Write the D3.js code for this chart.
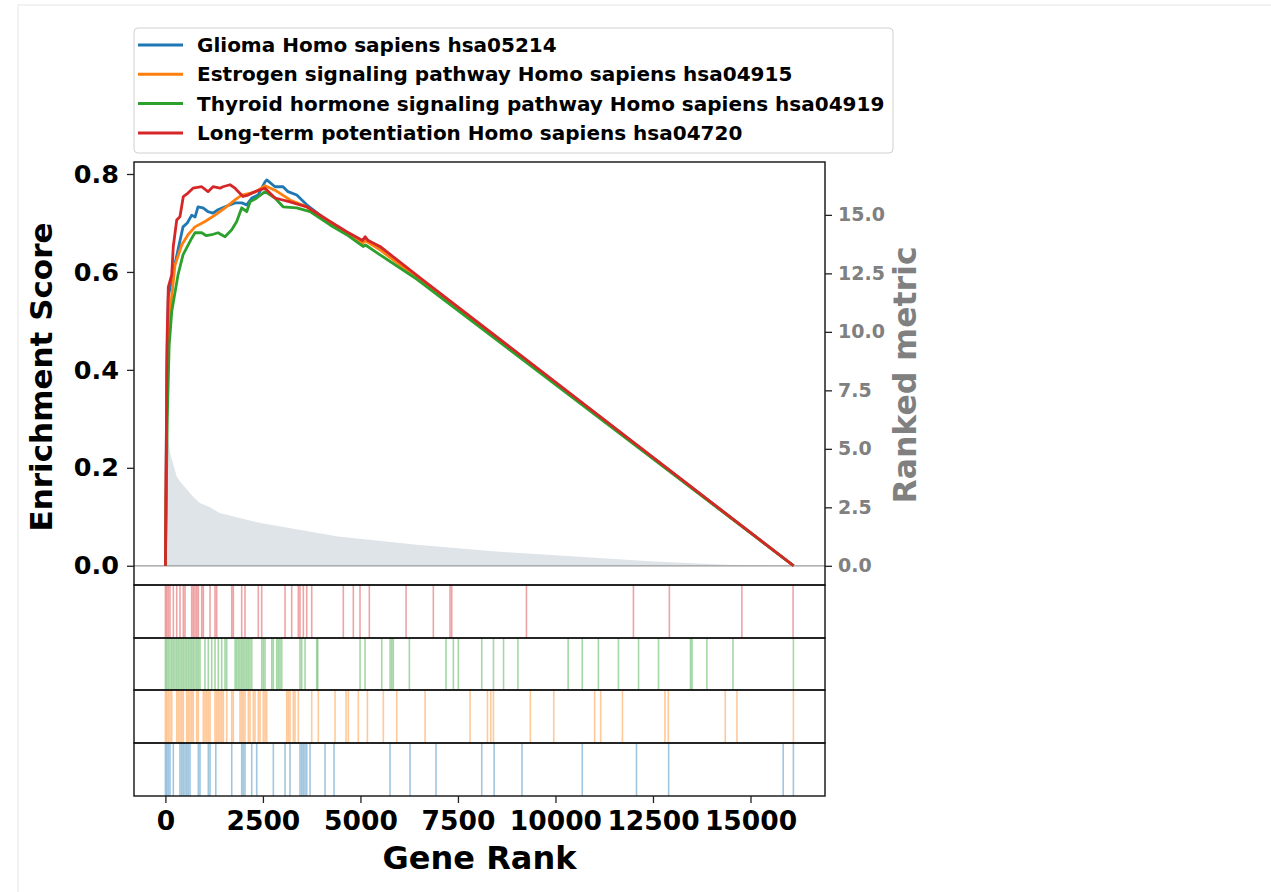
<!DOCTYPE html>
<html>
<head>
<meta charset="utf-8">
<script src="https://cdn.jsdelivr.net/npm/d3@7"></script>
<style>
  body { margin: 0; background: #fff; }
  svg { font-family: "DejaVu Sans", sans-serif; font-weight: bold; }
</style>
</head>
<body>
<svg id="chart" width="1271" height="892"></svg>
<script>
const nGenes = 16105;

const termNames = [
  'Glioma Homo sapiens hsa05214',
  'Estrogen signaling pathway Homo sapiens hsa04915',
  'Thyroid hormone signaling pathway Homo sapiens hsa04919',
  'Long-term potentiation Homo sapiens hsa04720'
];
const termColors = ['#1f77b4', '#ff7f0e', '#2ca02c', '#d62728'];

// running enrichment score, [rank, ES]
const esGlioma = [[0, 0], [38, 0.40], [74, 0.55], [200, 0.60], [323, 0.645], [451, 0.692], [560, 0.700], [675, 0.716],
  [760, 0.712], [835, 0.733], [964, 0.731], [1092, 0.723], [1220, 0.720], [1348, 0.727], [1528, 0.733], [1784, 0.741],
  [1957, 0.741], [2085, 0.737], [2213, 0.751], [2374, 0.757], [2554, 0.784], [2598, 0.788], [2810, 0.774], [3016, 0.774],
  [3144, 0.764], [3367, 0.757], [3623, 0.737], [4221, 0.700], [4649, 0.679], [5053, 0.662], [5120, 0.668], [5503, 0.649],
  [6529, 0.586], [16105, 0]];
const esEstrogen = [[0, 0], [38, 0.35], [96, 0.50], [246, 0.614], [418, 0.655], [579, 0.676], [759, 0.692], [1015, 0.703],
  [1271, 0.716], [1528, 0.731], [1784, 0.747], [1957, 0.757], [2297, 0.763], [2554, 0.776], [2810, 0.767], [3195, 0.747],
  [3623, 0.733], [4221, 0.698], [4649, 0.677], [5053, 0.658], [5120, 0.664], [5503, 0.645], [6529, 0.584], [16105, 0]];
const esThyroid = [[0, 0], [48, 0.30], [96, 0.45], [162, 0.519], [323, 0.594], [451, 0.635], [675, 0.669], [759, 0.680],
  [931, 0.680], [1050, 0.674], [1187, 0.676], [1348, 0.680], [1528, 0.672], [1700, 0.686], [1828, 0.703], [1957, 0.731],
  [2085, 0.723], [2170, 0.743], [2341, 0.751], [2554, 0.764], [2810, 0.751], [3016, 0.733], [3367, 0.731], [3708, 0.723],
  [4221, 0.696], [4649, 0.676], [5067, 0.652], [5130, 0.655], [5503, 0.635], [6450, 0.585], [16105, 0]];
const esLtp = [[0, 0], [40, 0.45], [74, 0.569], [162, 0.594], [202, 0.652], [290, 0.706], [374, 0.713], [459, 0.754],
  [579, 0.761], [707, 0.771], [931, 0.774], [1092, 0.764], [1220, 0.774], [1400, 0.771], [1476, 0.774], [1656, 0.778],
  [1784, 0.771], [1989, 0.754], [2118, 0.757], [2297, 0.764], [2554, 0.771], [2810, 0.751], [3195, 0.743], [3623, 0.733],
  [4221, 0.703], [4649, 0.682], [5053, 0.664], [5120, 0.672], [5198, 0.664], [5503, 0.652], [6529, 0.588], [16105, 0]];

// ranked metric, [rank, value]
const rankedMetric = [[0, 16.44], [5, 11], [12, 8], [20, 7], [33, 5.95], [118, 4.83], [290, 3.82], [374, 3.6], [708, 2.96],
  [882, 2.68], [1144, 2.5], [1387, 2.26], [2400, 1.84], [4426, 1.25], [6451, 0.90], [8477, 0.61], [10502, 0.40],
  [12528, 0.18], [14553, 0.04], [16105, 0]];

// gene set hit positions (ranks)
const hitsGlioma = [0, 33, 74, 118, 203, 374, 418, 459, 503, 546, 587, 631, 844, 887, 1100, 1144, 1292, 1700, 1956, 1997,
  2041, 2213, 2341, 2767, 3067, 3195, 3451, 3495, 3536, 3580, 3623, 3708, 4092, 4323, 5759, 6272, 6938, 8110, 8428,
  9141, 10687, 12077, 12902, 15838, 16100];
const hitsEstrogen = [0, 33, 74, 118, 162, 290, 331, 374, 418, 459, 546, 587, 631, 674, 715, 803, 844, 972, 1015, 1059,
  1100, 1144, 1272, 1315, 1356, 1400, 1444, 1485, 1572, 1700, 1741, 1913, 1956, 1997, 2041, 2126, 2169, 2254, 2297, 2382,
  2426, 2510, 2554, 2597, 3110, 3151, 3195, 3279, 3323, 3408, 3751, 3920, 4349, 4631, 4690, 4946, 5178, 5587, 5931,
  6657, 7810, 8256, 8343, 8410, 9356, 9956, 11005, 11159, 11717, 12807, 12894, 14353, 14653, 16100];
const hitsThyroid = [0, 33, 74, 118, 162, 203, 246, 290, 331, 374, 418, 459, 503, 546, 589, 631, 674, 715, 759, 803, 844,
  887, 1015, 1100, 1187, 1272, 1356, 1443, 1528, 1572, 1787, 1828, 1871, 1912, 1956, 1997, 2040, 2084, 2125, 2169, 2213,
  2469, 2510, 2554, 2726, 2767, 2854, 2895, 2938, 2982, 3451, 3495, 3580, 3879, 3905, 4990, 5118, 5546, 5759, 5802, 5843,
  6254, 7195, 7382, 7510, 8110, 8410, 8669, 9038, 10325, 10687, 11100, 11615, 12130, 12643, 13461, 13502, 13882, 14551,
  16100];
const hitsLtp = [0, 33, 74, 118, 203, 290, 374, 459, 503, 674, 715, 759, 803, 844, 931, 972, 1144, 1272, 1315, 1700,
  1741, 1956, 2040, 2382, 2469, 3067, 3238, 3408, 3451, 3536, 3623, 3751, 4561, 4818, 4989, 5228, 6170, 6869, 7297, 7341,
  9256, 11999, 12920, 14779, 16092];

const xTicks = [0, 2500, 5000, 7500, 10000, 12500, 15000];
const esTicks = [0, 0.2, 0.4, 0.6, 0.8];
const metricTicks = [0, 2.5, 5, 7.5, 10, 12.5, 15];

const esCurves = [esGlioma, esEstrogen, esThyroid, esLtp];
const hitSets = [hitsGlioma, hitsEstrogen, hitsThyroid, hitsLtp];

const svg = d3.select('#chart');
const plotLeft = 134, plotRight = 825, plotTop = 162, esBottom = 585;
const panelEdges = [585, 638, 690, 743, 796];

svg.append('rect')
  .attr('x', 18).attr('y', 5).attr('width', 1300).attr('height', 900)
  .style('fill', 'none').style('stroke', '#e6e6e6');

const x = d3.scaleLinear().domain([-0.05 * nGenes, 1.05 * nGenes]).range([plotLeft, plotRight]);
const yEs = d3.scaleLinear().domain([-0.0393, 0.8245]).range([esBottom, plotTop]);
const yMetric = d3.scaleLinear().domain([-0.82, 17.26]).range([esBottom, plotTop]);

// ranked metric fill
svg.append('path')
  .datum(rankedMetric)
  .attr('d', d3.area().x(d => x(d[0])).y0(yMetric(0)).y1(d => yMetric(d[1])))
  .style('fill', '#dfe4e9');

svg.append('line')
  .attr('x1', plotLeft).attr('x2', plotRight)
  .attr('y1', yMetric(0)).attr('y2', yMetric(0))
  .style('stroke', '#9a9a9a').style('stroke-width', 1.2);

svg.selectAll('path.es')
  .data(esCurves)
  .enter()
  .append('path')
  .classed('es', true)
  .attr('d', d3.line().x(d => x(d[0])).y(d => yEs(d[1])))
  .style('fill', 'none')
  .style('stroke', (d, i) => termColors[i])
  .style('stroke-width', 2.8)
  .style('stroke-linejoin', 'round');

// hit panels, red on top, blue at the bottom
hitSets.forEach((hits, i) => {
  const row = 3 - i;
  const y0 = panelEdges[row], y1 = panelEdges[row + 1];
  svg.append('g')
    .selectAll('line')
    .data(hits)
    .enter()
    .append('line')
    .attr('x1', d => x(d)).attr('x2', d => x(d))
    .attr('y1', y0).attr('y2', y1)
    .style('stroke', termColors[i])
    .style('stroke-width', 1.6)
    .style('stroke-opacity', 0.42);
});

// frames
svg.append('rect')
  .attr('x', plotLeft).attr('y', plotTop).attr('width', plotRight - plotLeft).attr('height', esBottom - plotTop)
  .style('fill', 'none').style('stroke', '#111').style('stroke-width', 1.4);
panelEdges.slice(0, 4).forEach((y0, i) => {
  svg.append('rect')
    .attr('x', plotLeft).attr('y', y0).attr('width', plotRight - plotLeft).attr('height', panelEdges[i + 1] - y0)
    .style('fill', 'none').style('stroke', '#111').style('stroke-width', 1.4);
});

// axes
const leftAxis = svg.append('g')
  .attr('transform', `translate(${plotLeft},0)`)
  .call(d3.axisLeft(yEs).tickValues(esTicks).tickFormat(d3.format('.1f')).tickSize(7).tickPadding(8));
leftAxis.selectAll('text').style('font-size', '25.5px').style('fill', '#000');

const rightAxis = svg.append('g')
  .attr('transform', `translate(${plotRight},0)`)
  .call(d3.axisRight(yMetric).tickValues(metricTicks).tickFormat(d3.format('.1f')).tickSize(7).tickPadding(6));
rightAxis.selectAll('text').style('font-size', '19px').style('fill', '#808080');

const bottomAxis = svg.append('g')
  .attr('transform', `translate(0,${panelEdges[4]})`)
  .call(d3.axisBottom(x).tickValues(xTicks).tickFormat(d3.format('d')).tickSize(7).tickPadding(8));
bottomAxis.selectAll('text').style('font-size', '26.5px').style('fill', '#000');

svg.selectAll('.domain').remove();
svg.selectAll('.tick line').style('stroke', '#222').style('stroke-width', 1.3);
svg.selectAll('.tick text').style('font-family', '"DejaVu Sans", sans-serif').style('font-weight', 'bold');

svg.append('text')
  .text('Enrichment Score')
  .attr('transform', 'translate(52,377) rotate(-90)')
  .attr('text-anchor', 'middle')
  .style('font-size', '31px');

svg.append('text')
  .text('Ranked metric')
  .attr('transform', 'translate(916,375) rotate(-90)')
  .attr('text-anchor', 'middle')
  .style('font-size', '31.5px')
  .style('fill', '#808080');

svg.append('text')
  .text('Gene Rank')
  .attr('x', (plotLeft + plotRight) / 2).attr('y', 869)
  .attr('text-anchor', 'middle')
  .style('font-size', '32px');

// legend
svg.append('rect')
  .attr('x', 134).attr('y', 28).attr('width', 759).attr('height', 125).attr('rx', 4)
  .style('fill', '#fff').style('stroke', '#d0d0d0');

const legendRows = svg.selectAll('g.legend')
  .data(termNames)
  .enter()
  .append('g')
  .classed('legend', true)
  .attr('transform', (d, i) => `translate(0,${45 + i * 29.3})`);

legendRows.append('line')
  .attr('x1', 138).attr('x2', 183)
  .style('stroke', (d, i) => termColors[i])
  .style('stroke-width', 3);

legendRows.append('text')
  .text(d => d)
  .attr('x', 197).attr('dy', '0.35em')
  .style('font-size', '20px');
</script>
</body>
</html>
